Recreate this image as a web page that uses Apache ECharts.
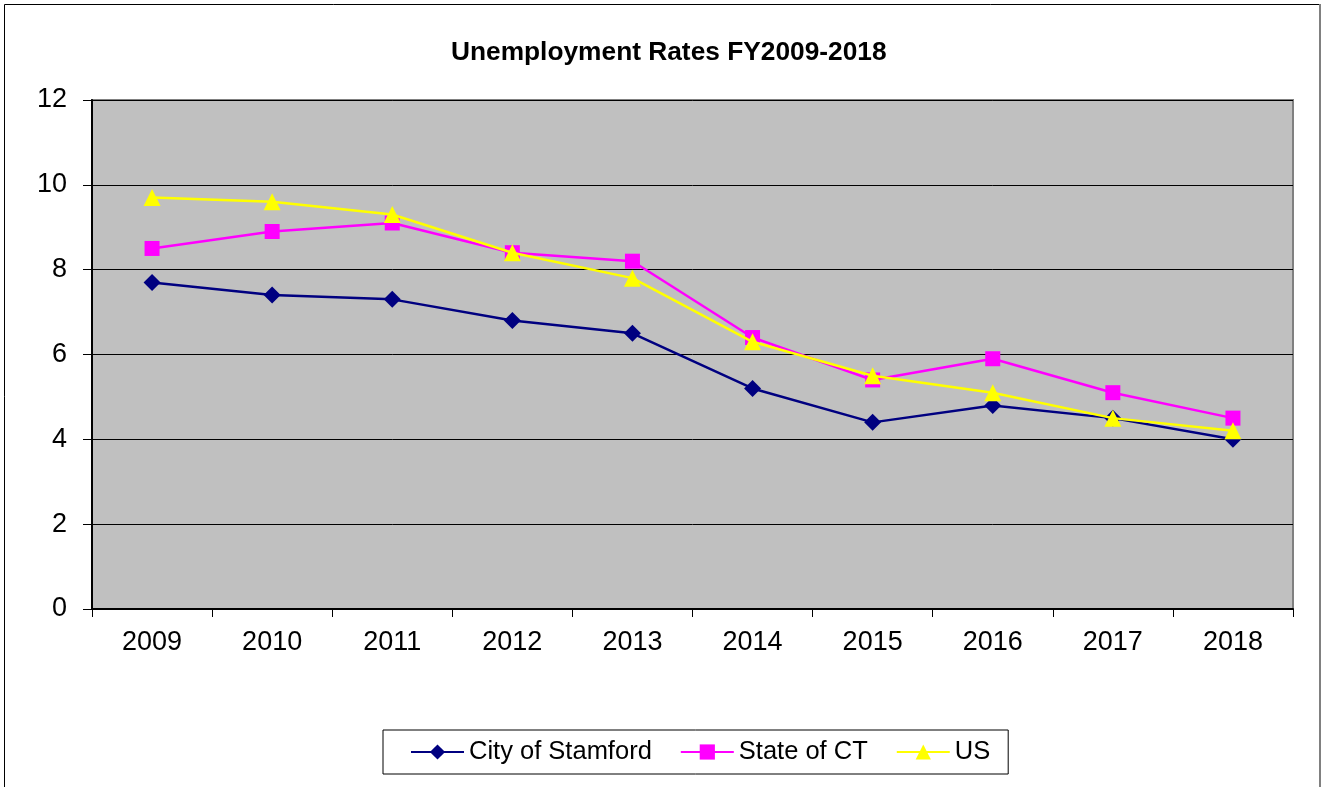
<!DOCTYPE html>
<html>
<head>
<meta charset="utf-8">
<script src="https://cdn.jsdelivr.net/npm/echarts@6/dist/echarts.min.js"></script>
<style>
  html, body { margin: 0; padding: 0; background: #fff; }
  #main { width: 1322px; height: 787px; }
</style>
</head>
<body>
<div id="main"></div>
<script>
  // 年份
  var years = ['2009', '2010', '2011', '2012', '2013', '2014', '2015', '2016', '2017', '2018'];
  // 失业率
  var stamford = [7.7, 7.4, 7.3, 6.8, 6.5, 5.2, 4.4, 4.8, 4.5, 4.0];
  var stateCT = [8.5, 8.9, 9.1, 8.4, 8.2, 6.4, 5.4, 5.9, 5.1, 4.5];
  var us = [9.7, 9.6, 9.3, 8.4, 7.8, 6.3, 5.5, 5.1, 4.5, 4.2];

  var myChart = echarts.init(document.getElementById('main'));

  var font = 'Liberation Sans, Arial, sans-serif';

  var option = {
    animation: false,
    textStyle: { fontFamily: font },
    title: {
      text: 'Unemployment Rates FY2009-2018',
      left: 446,
      top: 35,
      textStyle: { fontSize: 26.3, fontWeight: 'bold', color: '#000', fontFamily: font }
    },
    graphic: [{
      type: 'rect',
      shape: { x: 4.5, y: 4.5, width: 1315, height: 790 },
      style: { fill: 'none', stroke: '#000', lineWidth: 1 },
      z: -1
    }, {
      type: 'line',
      shape: { x1: 1320, y1: 4, x2: 1320, y2: 787 },
      style: { stroke: '#808080', lineWidth: 2 }
    }],
    legend: {
      bottom: 13,
      left: 383,
      itemWidth: 53,
      itemHeight: 19,
      itemGap: 28,
      padding: [9, 18, 9, 27],
      borderColor: '#000',
      borderWidth: 1,
      textStyle: { fontSize: 25.5, color: '#000', fontFamily: font },
      data: ['City of Stamford', 'State of CT', 'US']
    },
    grid: {
      left: 92,
      right: 29,
      top: 100,
      bottom: 178,
      show: true,
      backgroundColor: '#c0c0c0',
      borderColor: '#808080',
      borderWidth: 2
    },
    xAxis: {
      type: 'category',
      data: years,
      boundaryGap: true,
      axisLine: { lineStyle: { color: '#000', width: 2 } },
      axisTick: { show: true, length: 8, lineStyle: { color: '#000' } },
      axisLabel: { fontSize: 27, color: '#000', margin: 20 }
    },
    yAxis: {
      type: 'value',
      min: 0,
      max: 12,
      interval: 2,
      axisLine: { show: true, lineStyle: { color: '#000', width: 2 } },
      axisTick: { show: true, length: 9, lineStyle: { color: '#000' } },
      axisLabel: { fontSize: 27, color: '#000', margin: 25 },
      splitLine: { lineStyle: { color: '#000', width: 1 } }
    },
    series: [
      {
        name: 'City of Stamford',
        type: 'line',
        data: stamford,
        symbol: 'diamond',
        symbolSize: 17,
        color: '#000080',
        lineStyle: { width: 2.5 },
        z: 3
      },
      {
        name: 'State of CT',
        type: 'line',
        data: stateCT,
        symbol: 'rect',
        symbolSize: 15,
        color: '#ff00ff',
        lineStyle: { width: 2.5 },
        z: 2
      },
      {
        name: 'US',
        type: 'line',
        data: us,
        symbol: 'triangle',
        symbolSize: 17,
        color: '#ffff00',
        lineStyle: { width: 2.5 },
        z: 4
      }
    ]
  };
  myChart.setOption(option);
</script>
</body>
</html>
